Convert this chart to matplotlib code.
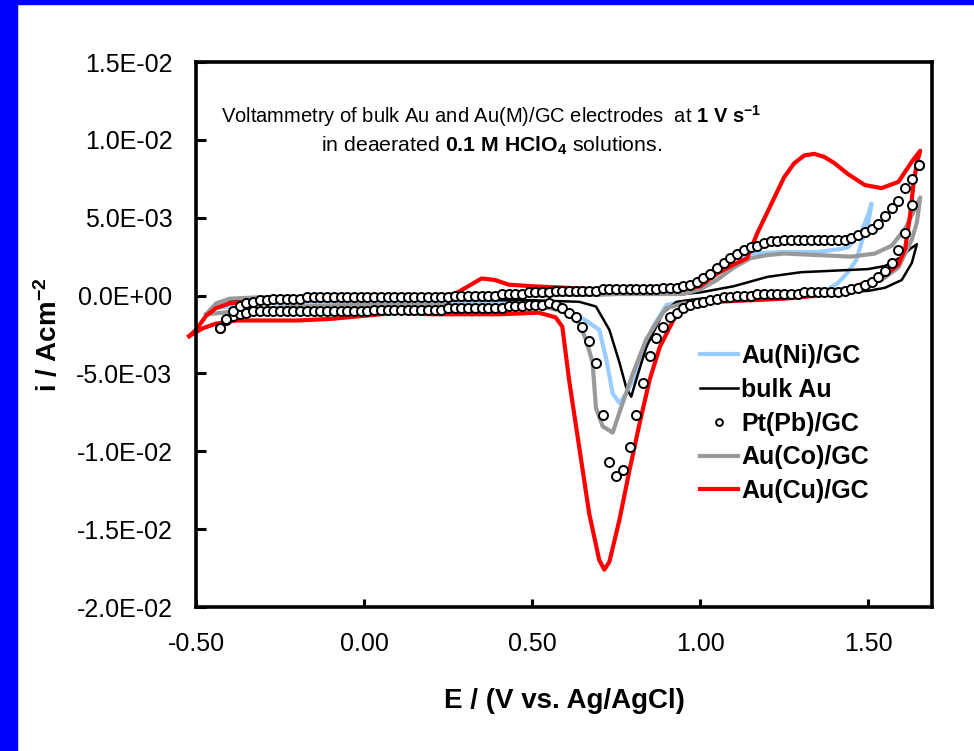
import numpy as np
import matplotlib
matplotlib.use('Agg')
import matplotlib.pyplot as plt
from matplotlib.patches import Rectangle
from matplotlib.ticker import FuncFormatter, MultipleLocator

plt.rcParams['font.family'] = ['Liberation Sans', 'DejaVu Sans']
plt.rcParams['mathtext.fontset'] = 'custom'
plt.rcParams['mathtext.rm'] = 'Liberation Sans'
plt.rcParams['mathtext.bf'] = 'Liberation Sans:bold'
plt.rcParams['mathtext.it'] = 'Liberation Sans:italic'
plt.rcParams['mathtext.default'] = 'regular'

# currents below are in mA cm-2, converted to A cm-2 when plotted
# Au(Cu)/GC, anodic sweep then cathodic sweep
E_cu = [-0.52, -0.50, -0.47, -0.44, -0.40, -0.35, -0.30, -0.20, -0.10, 0.00,
        0.10, 0.20, 0.27, 0.31, 0.35, 0.39, 0.43, 0.50, 0.60, 0.70,
        0.80, 0.90, 0.95, 1.00, 1.05, 1.10, 1.14, 1.17, 1.21, 1.25,
        1.28, 1.31, 1.34, 1.37, 1.40, 1.44, 1.49, 1.54, 1.59, 1.63, 1.655,
        1.645, 1.635, 1.625, 1.61, 1.59, 1.55, 1.50, 1.45, 1.35, 1.25,
        1.15, 1.05, 0.95, 0.92, 0.88, 0.85, 0.82, 0.79, 0.76, 0.73,
        0.715, 0.70, 0.67, 0.64, 0.61, 0.59, 0.57, 0.52, 0.40, 0.30,
        0.20, 0.10, 0.00, -0.10, -0.20, -0.30, -0.38, -0.44, -0.48, -0.52]
i_cu = [-2.6, -2.2, -1.3, -0.8, -0.5, -0.4, -0.3, -0.3, -0.3, -0.3,
        -0.2, -0.1, 0.1, 0.6, 1.1, 1.0, 0.7, 0.6, 0.5, 0.4,
        0.4, 0.4, 0.4, 0.6, 1.4, 2.0, 2.4, 4.0, 5.8, 7.6,
        8.5, 9.0, 9.1, 8.9, 8.5, 7.8, 7.1, 6.9, 7.3, 8.6, 9.3,
        8.5, 7.2, 5.2, 3.0, 2.0, 1.3, 0.9, 0.5, 0.0, -0.2,
        -0.3, -0.4, -0.7, -1.6, -3.3, -5.4, -8.2, -11.2, -14.4, -17.1,
        -17.6, -17.0, -14.0, -9.7, -5.4, -2.0, -1.4, -1.1, -1.2, -1.2,
        -1.2, -1.1, -1.3, -1.5, -1.6, -1.6, -1.6, -1.8, -2.1, -2.6]

# Au(Co)/GC
E_co = [-0.47, -0.44, -0.40, -0.30, -0.10, 0.10, 0.30, 0.50, 0.70, 0.90,
        0.95, 1.00, 1.05, 1.10, 1.15, 1.20, 1.25, 1.35, 1.45, 1.52,
        1.57, 1.61, 1.64, 1.655,
        1.645, 1.63, 1.61, 1.59, 1.54, 1.45, 1.35, 1.20, 1.05, 0.95,
        0.90, 0.88, 0.84, 0.80, 0.76, 0.74, 0.71, 0.69, 0.68, 0.66,
        0.64, 0.61, 0.55, 0.40, 0.20, 0.00, -0.20, -0.35, -0.42, -0.47]
i_co = [-1.2, -0.5, -0.2, -0.1, -0.1, -0.1, 0.0, 0.0, 0.1, 0.1,
        0.1, 0.4, 1.0, 1.8, 2.4, 2.6, 2.7, 2.6, 2.5, 2.7,
        3.2, 4.3, 5.6, 6.3,
        4.7, 3.6, 2.7, 1.8, 1.0, 0.5, 0.2, -0.1, -0.3, -0.5,
        -0.8, -1.4, -2.8, -5.0, -7.5, -8.8, -8.4, -7.2, -4.3, -2.8,
        -1.8, -1.1, -0.8, -0.7, -0.6, -0.6, -0.7, -0.9, -1.1, -1.2]

# Au(Ni)/GC
E_ni = [-0.45, -0.40, -0.30, 0.00, 0.30, 0.50, 0.70, 0.90, 0.95, 1.00,
        1.05, 1.10, 1.15, 1.25, 1.35, 1.42, 1.44, 1.48, 1.50, 1.51,
        1.50, 1.48, 1.465, 1.44, 1.41, 1.38, 1.30, 1.20, 1.05, 0.95,
        0.90, 0.86, 0.81, 0.78, 0.76, 0.74, 0.72, 0.70, 0.66, 0.60,
        0.50, 0.20, 0.00, -0.30, -0.45]
i_ni = [-0.8, -0.3, -0.2, -0.2, -0.1, 0.0, 0.1, 0.2, 0.4, 0.9,
        1.7, 2.4, 2.7, 2.8, 2.8, 3.0, 3.1, 4.1, 5.2, 5.9,
        4.6, 3.4, 2.3, 1.5, 0.8, 0.4, 0.2, 0.0, -0.2, -0.4,
        -0.6, -2.0, -5.0, -6.3, -6.9, -6.3, -4.0, -2.2, -1.6, -0.9,
        -0.5, -0.4, -0.4, -0.5, -0.8]

# bulk Au
E_au = [-0.40, -0.30, 0.00, 0.30, 0.60, 0.90, 0.95, 1.00, 1.05, 1.10,
        1.15, 1.20, 1.30, 1.40, 1.50, 1.55, 1.60, 1.625, 1.645,
        1.63, 1.60, 1.55, 1.50, 1.40, 1.20, 1.00, 0.93, 0.89, 0.84,
        0.81, 0.795, 0.78, 0.76, 0.73, 0.69, 0.64, 0.50, 0.00, -0.40]
i_au = [-0.3, -0.1, 0.0, 0.0, 0.0, 0.1, 0.1, 0.2, 0.4, 0.6,
        0.9, 1.2, 1.5, 1.6, 1.7, 1.9, 2.5, 3.0, 3.3,
        2.1, 1.0, 0.5, 0.3, 0.2, 0.1, -0.2, -0.4, -1.1, -3.3,
        -5.4, -6.5, -5.9, -4.3, -2.2, -0.7, -0.4, -0.3, -0.3, -0.3]

# Pt(Pb)/GC, sampled points (open circles)
E_pb = [-0.43, -0.41, -0.39, -0.37, -0.35, -0.33, -0.31, -0.29, -0.27, -0.25,
        -0.23, -0.21, -0.19, -0.17, -0.15, -0.13, -0.11, -0.09, -0.07, -0.05,
        -0.03, -0.01, 0.01, 0.03, 0.05, 0.07, 0.09, 0.11, 0.13, 0.15,
        0.17, 0.19, 0.21, 0.23, 0.25, 0.27, 0.29, 0.31, 0.33, 0.35,
        0.37, 0.39, 0.41, 0.43, 0.45, 0.47, 0.49, 0.51, 0.53, 0.55,
        0.57, 0.59, 0.61, 0.63, 0.65, 0.67, 0.69, 0.71, 0.73, 0.75,
        0.77, 0.79, 0.81, 0.83, 0.85, 0.87, 0.89, 0.91, 0.93, 0.95,
        0.97, 0.99, 1.01, 1.03, 1.05, 1.07, 1.09, 1.11, 1.13, 1.15,
        1.17, 1.19, 1.21, 1.23, 1.25, 1.27, 1.29, 1.31, 1.33, 1.35,
        1.37, 1.39, 1.41, 1.43, 1.45, 1.47, 1.49, 1.51, 1.53, 1.55,
        1.57, 1.59, 1.61, 1.63, 1.65]
i_pb_anodic = [-2.1, -1.5, -1.0, -0.7, -0.5, -0.4, -0.3, -0.3, -0.2, -0.2,
               -0.2, -0.2, -0.2, -0.1, -0.1, -0.1, -0.1, -0.1, -0.1, -0.1,
               -0.1, -0.1, -0.1, -0.1, -0.1, -0.1, -0.1, -0.1, -0.1, -0.1,
               -0.1, -0.1, -0.1, -0.1, -0.1, 0.0, 0.0, 0.0, 0.0, 0.0,
               0.0, 0.0, 0.1, 0.1, 0.1, 0.1, 0.2, 0.2, 0.2, 0.2,
               0.3, 0.3, 0.3, 0.3, 0.3, 0.3, 0.3, 0.4, 0.4, 0.4,
               0.4, 0.4, 0.4, 0.4, 0.4, 0.4, 0.5, 0.5, 0.5, 0.6,
               0.7, 0.9, 1.1, 1.4, 1.8, 2.1, 2.4, 2.7, 2.9, 3.1,
               3.2, 3.4, 3.5, 3.5, 3.6, 3.6, 3.6, 3.6, 3.6, 3.6,
               3.6, 3.6, 3.6, 3.6, 3.7, 3.9, 4.1, 4.3, 4.6, 5.1,
               5.6, 6.1, 6.9, 7.5, 8.4]
i_pb_cathodic = [-2.1, -1.6, -1.3, -1.2, -1.1, -1.0, -1.0, -1.0, -1.0, -1.0,
                 -1.0, -1.0, -1.0, -1.0, -1.0, -1.0, -1.0, -1.0, -1.0, -1.0,
                 -1.0, -1.0, -1.0, -0.9, -0.9, -0.9, -0.9, -0.9, -0.9, -0.9,
                 -0.9, -0.9, -0.9, -0.9, -0.8, -0.8, -0.8, -0.8, -0.8, -0.8,
                 -0.8, -0.8, -0.8, -0.7, -0.7, -0.7, -0.6, -0.6, -0.6, -0.5,
                 -0.6, -0.8, -1.1, -1.4, -2.0, -2.9, -4.3, -7.7, -10.7, -11.6,
                 -11.2, -9.7, -7.7, -5.6, -3.9, -2.7, -2.0, -1.4, -1.1, -0.8,
                 -0.6, -0.5, -0.4, -0.3, -0.2, -0.1, -0.1, 0.0, 0.0, 0.0,
                 0.1, 0.1, 0.1, 0.1, 0.1, 0.1, 0.1, 0.2, 0.2, 0.2,
                 0.2, 0.2, 0.2, 0.3, 0.4, 0.5, 0.7, 0.9, 1.2, 1.6,
                 2.1, 2.9, 4.0, 5.8, 8.4]

mA = 1e-3

fig = plt.figure(figsize=(9.74, 7.51), dpi=100)
fig.patches.append(Rectangle((0, 0), 17 / 974, 1, transform=fig.transFigure,
                             color='#0000ff', zorder=0))
fig.patches.append(Rectangle((0, 1 - 4 / 751), 1, 4 / 751, transform=fig.transFigure,
                             color='#0000ff', zorder=0))
ax = fig.add_axes([196 / 974, 1 - 607 / 751, 736 / 974, 545 / 751])

l_ni, = ax.plot(E_ni, np.array(i_ni) * mA, color='#99ccff', lw=3, label='Au(Ni)/GC')
l_au, = ax.plot(E_au, np.array(i_au) * mA, color='black', lw=1.8, label='bulk Au')
l_co, = ax.plot(E_co, np.array(i_co) * mA, color='#999999', lw=3, label='Au(Co)/GC')
l_cu, = ax.plot(E_cu, np.array(i_cu) * mA, color='#ff0000', lw=3, label='Au(Cu)/GC',
                clip_on=False)
ax.plot(E_pb, np.array(i_pb_cathodic) * mA, ls='none', marker='o', ms=6.5,
        mfc='white', mec='black', mew=1.4)
l_pb, = ax.plot(E_pb, np.array(i_pb_anodic) * mA, ls='none', marker='o', ms=6.5,
                mfc='white', mec='black', mew=1.4, label='Pt(Pb)/GC')

ax.set_xlim(-0.5, 1.69)
ax.set_ylim(-0.02, 0.015)
ax.xaxis.set_major_locator(MultipleLocator(0.5))
ax.yaxis.set_major_locator(MultipleLocator(0.005))
ax.xaxis.set_major_formatter(FuncFormatter(lambda v, p: '%.2f' % v))
ax.yaxis.set_major_formatter(FuncFormatter(lambda v, p: '%.1E' % v))
ax.tick_params(axis='x', direction='in', length=6, width=2.2, labelsize=18, pad=18)
ax.tick_params(axis='y', direction='in', length=7, width=2.2, labelsize=18, pad=17)
for s in ax.spines.values():
    s.set_linewidth(2.6)

ax.set_xlabel('E / (V vs. Ag/AgCl)', fontsize=20, fontweight='bold', va='center')
ax.xaxis.set_label_coords(0.5, -0.173)
ax.set_ylabel('i / Acm$^{-2}$', fontsize=20, fontweight='bold', va='center')
ax.yaxis.set_label_coords(-0.2, 0.5)

ax.text(0.401, 0.888,
        r'Voltammetry of bulk Au and Au(M)/GC electrodes  at $\mathbf{1\ V\ s^{-1}}$',
        transform=ax.transAxes, ha='center', va='baseline', fontsize=14.5)
ax.text(0.401, 0.835, r'in deaerated $\mathbf{0.1\ M\ HClO_4}$ solutions.',
        transform=ax.transAxes, ha='center', va='baseline', fontsize=15.3)

leg = ax.legend(handles=[l_ni, l_au, l_pb, l_co, l_cu], loc='upper left',
                bbox_to_anchor=((700 - 196) / 736, (607 - 344) / 545),
                frameon=False, borderaxespad=0, borderpad=0,
                prop={'weight': 'bold', 'size': 18}, handlelength=1.5,
                handletextpad=0.15, labelspacing=0.39, markerscale=0.75)

fig.savefig('out.png', dpi=100)
